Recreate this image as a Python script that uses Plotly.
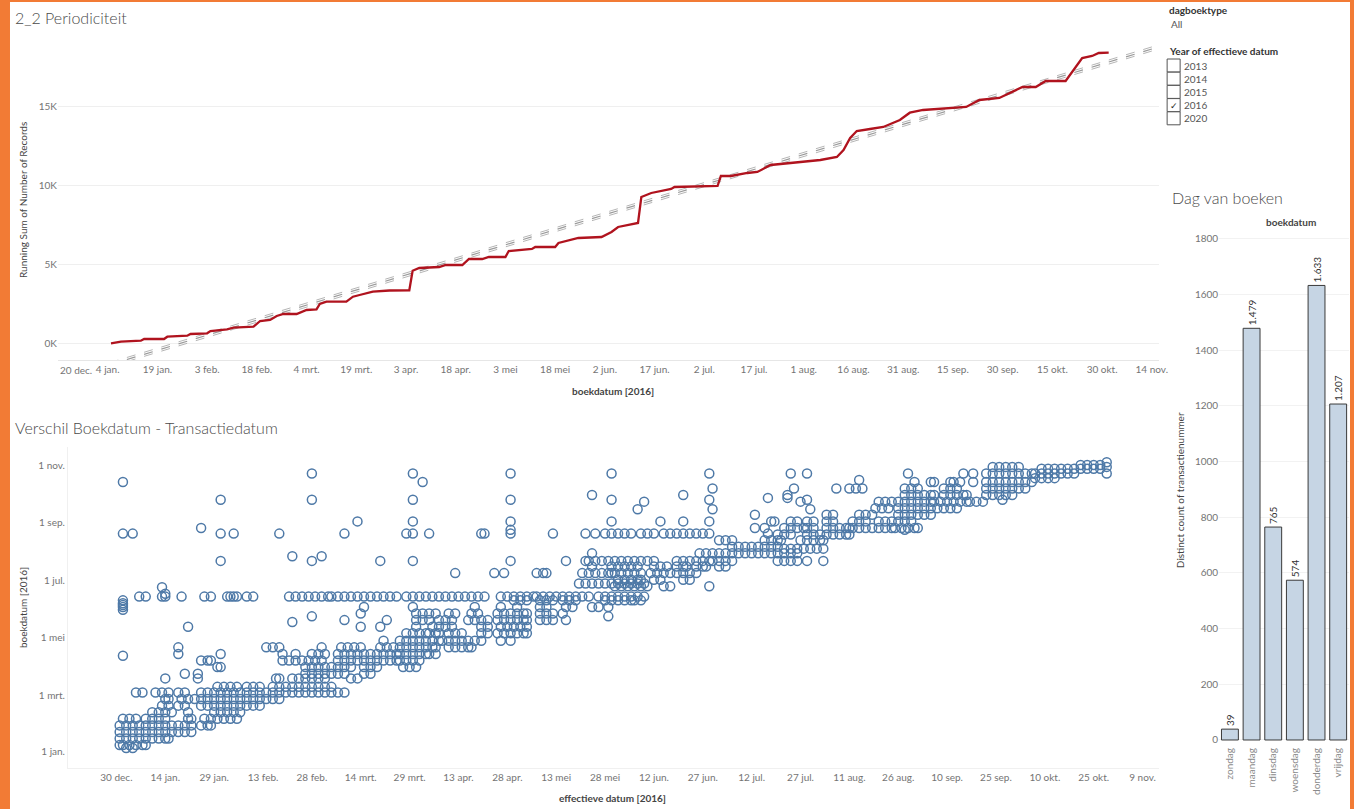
import plotly.graph_objects as go
import pandas as pd

W, H = 1355, 809          # reference pixel frame
W_FIG = 1363              # rendered figure width (compensates horizontal squeeze of the viewer)

# ---------------- Top chart: running sum of number of records ----------------
run_dates = ["2016-01-05","2016-01-08","2016-01-14","2016-01-15","2016-01-21","2016-01-22",
 "2016-01-28","2016-01-29","2016-02-03","2016-02-04","2016-02-09","2016-02-11","2016-02-17",
 "2016-02-19","2016-02-22","2016-02-24","2016-02-26","2016-03-01","2016-03-04","2016-03-07",
 "2016-03-08","2016-03-10","2016-03-16","2016-03-18","2016-03-20","2016-03-24","2016-03-29",
 "2016-04-04","2016-04-05","2016-04-07","2016-04-13","2016-04-15","2016-04-20","2016-04-22",
 "2016-04-26","2016-04-28","2016-05-03","2016-05-04","2016-05-11","2016-05-12","2016-05-18",
 "2016-05-19","2016-05-25","2016-06-01","2016-06-04","2016-06-06","2016-06-12","2016-06-13",
 "2016-06-16","2016-06-22","2016-06-23","2016-07-06","2016-07-07","2016-07-10","2016-07-15",
 "2016-07-18","2016-07-22","2016-07-28","2016-08-06","2016-08-11","2016-08-13","2016-08-15",
 "2016-08-17","2016-08-21","2016-08-25","2016-08-30","2016-09-02","2016-09-06","2016-09-13",
 "2016-09-19","2016-09-23","2016-09-29","2016-10-06","2016-10-10","2016-10-13","2016-10-19",
 "2016-10-24","2016-10-27","2016-10-29","2016-11-01"]
run_values = [44,146,209,316,316,462,525,633,677,823,
 930,1032,1095,1456,1519,1772,1899,1899,2152,2196,
 2532,2677,2677,2994,3101,3310,3386,3400,4639,4810,
 4873,5000,5000,5380,5380,5506,5506,5886,6013,6139,
 6139,6392,6709,6772,7088,7405,7658,9304,9557,9810,
 9937,10000,10633,10633,10823,10886,11329,11456,11646,11835,
 12278,13038,13481,13607,13734,14177,14639,14810,14937,15000,
 15443,15570,16266,16266,16645,16645,18101,18228,18417,18440]

trend_dates = ["2015-12-20", "2016-11-16"]
trend_values = [-2305, 18797]
trend_band = 130

top_tick_dates = ["2016-01-04","2016-01-19","2016-02-03","2016-02-18","2016-03-04","2016-03-19",
 "2016-04-03","2016-04-18","2016-05-03","2016-05-18","2016-06-02","2016-06-17","2016-07-02",
 "2016-07-17","2016-08-01","2016-08-16","2016-08-31","2016-09-15","2016-09-30","2016-10-15",
 "2016-10-30","2016-11-14"]
top_tick_text = ["4 jan.","19 jan.","3 feb.","18 feb.","4 mrt.","19 mrt.","3 apr.","18 apr.",
 "3 mei","18 mei","2 jun.","17 jun.","2 jul.","17 jul.","1 aug.","16 aug.","31 aug.",
 "15 sep.","30 sep.","15 okt.","30 okt.","14 nov."]
top_first_label = "20 dec."
top_y_ticks = [0, 5000, 10000, 15000]
top_y_text = ["0K", "5K", "10K", "15K"]

# ---------------- Scatter: effectieve datum vs boekdatum (days since 1 jan 2016) ----------------
verschil_boek = [4, 7, 14, 21, 28, 35, 42, 49, 56, 63,
 69, 78, 83, 90, 97, 102, 104, 111, 118, 126,
 133, 138, 140, 144, 147, 151, 154, 156, 158, 161,
 165, 168, 175, 176, 179, 183, 190, 197, 203, 208,
 211, 216, 218, 225, 231, 232, 236, 238, 245, 252,
 258, 259, 266, 268, 270, 273, 280, 287, 289, 291,
 296, 301, 303, 305, 308]
verschil_eff = [
 [1, 3],
 [-1, 0, 2, 4, 6, 7],
 [-1, 1, 3, 5, 7, 9, 11, 13, 14],
 [-1, 1, 3, 5, 7, 9, 11, 13, 15, 17, 19, 21],
 [-1, 1, 3, 5, 7, 9, 11, 13, 15, 17, 19, 21, 24, 26, 27],
 [0, 2, 4, 7, 9, 11, 13, 20, 21, 25, 27, 29, 31, 33, 35],
 [9, 11, 13, 15, 20, 28, 30, 32, 34, 36],
 [12, 14, 17, 19, 24, 26, 28, 30, 32, 34, 36, 38, 40, 42],
 [13, 14, 18, 20, 22, 24, 26, 28, 30, 32, 34, 36, 38, 40, 42, 44, 46, 48],
 [4, 6, 10, 12, 14, 17, 19, 24, 26, 28, 30, 32, 34, 36, 38, 40, 42, 44, 46, 48, 50, 52, 54, 56, 58, 60, 62, 64, 66, 68],
 [29, 31, 33, 35, 38, 40, 42, 46, 48, 50, 52, 54, 56, 58, 60, 62, 64],
 [13, 23, 47, 48, 52, 54, 56, 58, 60, 62, 70, 72],
 [19, 23, 56, 58, 60, 62, 64, 66, 68, 74, 76],
 [29, 30, 56, 58, 60, 62, 64, 66, 68, 70, 74, 76, 78, 86, 88, 90],
 [24, 26, 27, 49, 51, 53, 55, 57, 59, 61, 66, 68, 70, 72, 74, 76, 78, 80, 82, 84, 85, 87, 89, 91],
 [0],
 [17, 30, 49, 53, 58, 60, 62, 66, 68, 70, 72, 74, 76, 78, 80, 82, 84, 85, 87, 89, 91, 93, 94, 96],
 [17, 44, 46, 48, 61, 67, 69, 71, 73, 79, 81, 83, 85, 87, 89, 91, 93, 95, 96, 100, 102, 104, 106, 107],
 [80, 85, 87, 89, 91, 93, 95, 97, 98, 100, 102, 104, 106, 108, 110, 116, 119],
 [87, 89, 91, 93, 94, 96, 97, 100, 102, 104, 110, 112, 115, 117, 119, 121, 123, 124],
 [20, 73, 79, 90, 95, 97, 99, 101, 110, 112, 116, 118, 120, 122, 124],
 [52],
 [68, 81, 90, 92, 94, 97, 99, 101, 106, 108, 110, 112, 115, 117, 119, 121, 123, 124, 128, 130, 132, 136],
 [58, 149],
 [73, 90, 92, 94, 96, 100, 102, 107, 109, 115, 117, 119, 121, 123, 124, 128, 130, 132, 135],
 [0],
 [0, 74, 89, 108, 116, 121, 128, 130, 136, 138, 144, 146, 149],
 [0],
 [0],
 [0, 120, 122, 124, 128, 130, 132, 135, 137, 139, 148, 150, 152, 154, 156, 157, 159],
 [5, 7, 12, 13, 18, 25, 27, 32, 33, 34, 35, 38, 40, 51, 53, 55, 57, 59, 61, 63, 64, 66, 68, 70, 72, 74, 76, 78, 80, 82, 84,
  87, 89, 91, 93, 95, 97, 99, 101, 103, 105, 107, 109, 111, 116, 118, 120, 122, 124, 126, 127, 129, 131, 133, 135, 137,
  139, 141, 143, 146, 148, 150, 152, 154, 156, 158, 160],
 [13],
 [12],
 [151, 153, 155, 157, 159, 161, 166, 168, 180],
 [140, 142, 144, 146, 148, 150, 152, 154, 156, 158, 160],
 [152, 154, 156, 158, 159, 163, 165, 172, 174],
 [102, 114, 117, 127, 129, 130, 141, 143, 145, 147, 149, 150, 151, 153, 155, 157, 159, 162, 164, 166, 168, 170, 172, 174, 176],
 [144, 150, 152, 154, 156, 158, 163, 165, 167, 170, 172, 173, 176, 178, 179, 183, 185],
 [30, 58, 79, 89, 119, 136, 142, 143, 145, 147, 149, 151, 153, 155, 157, 159, 161, 163, 170, 172, 174, 176, 178, 180, 181,
  183, 185, 187, 201, 203, 205, 207, 210, 215],
 [52, 61],
 [144, 177, 179, 181, 183, 185, 187, 189, 191, 193, 195, 197, 199, 201, 203, 205, 207],
 [203, 205, 207, 209, 211, 213, 215],
 [187, 189, 191, 193, 195, 197, 199, 201],
 [183, 185, 187, 197, 199, 201, 202, 208, 210, 212, 214, 215],
 [201, 203, 205, 210, 212, 214, 216, 218, 220, 222, 223],
 [0, 3, 30, 34, 48, 68, 87, 89, 94, 110, 111, 119, 132, 142, 145, 148, 150, 152, 154, 156, 159, 161, 163, 166, 168, 170,
  172, 174, 176, 178, 180, 198],
 [119, 240],
 [24, 194, 197, 203, 205, 207, 209, 210, 212, 216, 218, 220, 222, 223, 224, 226, 228, 230, 232, 234, 236, 237, 239, 241, 243, 244],
 [72, 89, 119, 150, 165, 172, 180, 199, 200, 205, 207, 210, 212, 216, 218, 224, 226, 228, 232, 234, 236, 238, 240, 242],
 [194, 216, 218, 226, 228, 230, 238, 240, 242, 244, 246, 248],
 [158, 181, 211],
 [231, 233, 235, 238, 240, 242, 244, 246, 248, 250, 252, 254, 256],
 [160, 208, 232, 234, 236, 238, 240, 242, 244, 246, 248, 249, 251, 253, 255, 257, 259, 260, 262, 264],
 [30, 58, 89, 119, 150, 180, 210, 270],
 [198, 204],
 [144, 172, 204, 240, 242, 244, 246, 248, 249, 252, 254, 256, 258, 259, 265, 267, 269, 271, 273],
 [181, 206, 219, 223, 225, 227, 240, 242, 244, 252, 254, 256, 265, 267, 269, 271, 273, 275, 277],
 [0, 92, 243, 248, 249, 254, 255, 257, 261, 265, 267, 269, 271, 273, 275, 277, 279],
 [226],
 [280, 282, 284, 286],
 [58, 89, 119, 150, 180, 205, 210, 241, 258, 261, 265, 267, 269, 271, 273, 275, 277, 279, 280, 282, 284, 286, 288, 290, 292, 302],
 [282, 284, 286, 288, 290, 292, 294, 296, 298, 300],
 [267, 269, 271, 273, 275, 302],
 [294, 296, 298, 300],
 [302],
]

sc_x_tick_dates = ["2015-12-30","2016-01-14","2016-01-29","2016-02-13","2016-02-28","2016-03-14",
 "2016-03-29","2016-04-13","2016-04-28","2016-05-13","2016-05-28","2016-06-12","2016-06-27",
 "2016-07-12","2016-07-27","2016-08-11","2016-08-26","2016-09-10","2016-09-25","2016-10-10",
 "2016-10-25","2016-11-09"]
sc_x_tick_text = ["30 dec.","14 jan.","29 jan.","13 feb.","28 feb.","14 mrt.","29 mrt.","13 apr.",
 "28 apr.","13 mei","28 mei","12 jun.","27 jun.","12 jul.","27 jul.","11 aug.","26 aug.",
 "10 sep.","25 sep.","10 okt.","25 okt.","9 nov."]
sc_y_tick_dates = ["2016-01-01","2016-03-01","2016-05-01","2016-07-01","2016-09-01","2016-11-01"]
sc_y_tick_text = ["1 jan.","1 mrt.","1 mei","1 jul.","1 sep.","1 nov."]

# ---------------- Bar chart: Dag van boeken ----------------
dagen = ["zondag", "maandag", "dinsdag", "woensdag", "donderdag", "vrijdag"]
dag_counts = [39, 1479, 765, 574, 1633, 1207]
dag_labels = ["39", "1.479", "765", "574", "1.633", "1.207"]

# ---------------- Filter panel ----------------
filter_years = ["2013", "2014", "2015", "2016", "2020"]
filter_checked = [False, False, False, True, False]

# =============================================================================
FONT = "Lato"
TICK = dict(family=FONT, size=10, color="#747474")

def px(x):
    return x / W

def py(y):
    return 1 - y / H

base = pd.Timestamp("2016-01-01")
sx, sy = [], []
for b, effs in zip(verschil_boek, verschil_eff):
    for e in effs:
        sx.append(base + pd.Timedelta(days=e))
        sy.append(base + pd.Timedelta(days=b))

fig = go.Figure()

# trend line with band
for off, col, wd in [(-trend_band, "#b5b5b5", 1), (trend_band, "#b5b5b5", 1), (0, "#9a9a9a", 1.2)]:
    fig.add_trace(go.Scatter(x=trend_dates, y=[v + off for v in trend_values], mode="lines",
                             line=dict(color=col, width=wd, dash="dash"),
                             xaxis="x", yaxis="y", showlegend=False, hoverinfo="skip"))
fig.add_trace(go.Scatter(x=run_dates, y=run_values, mode="lines",
                         line=dict(color="#b0131e", width=2.3),
                         xaxis="x", yaxis="y", showlegend=False))

fig.add_trace(go.Scatter(x=sx, y=sy, mode="markers",
                         marker=dict(symbol="circle-open", size=9, color="#4e79a7",
                                     line=dict(width=1.5, color="#4e79a7")),
                         xaxis="x2", yaxis="y2", showlegend=False))

fig.add_trace(go.Bar(x=dagen, y=dag_counts, text=dag_labels, textposition="outside",
                     textangle=-90, cliponaxis=False, constraintext="none",
                     textfont=dict(family=FONT, size=10, color="#333"),
                     marker=dict(color="#c6d5e4", line=dict(color="#3a3a3a", width=1)),
                     xaxis="x3", yaxis="y3", showlegend=False))

top_x0 = pd.Timestamp("2015-12-20")
top_x1 = pd.Timestamp("2016-02-03") + pd.Timedelta(days=(1160 - 207) / 3.318)
sc_x0 = base + pd.Timedelta(days=(68 - 116.5) / 3.26 - 2)
sc_x1 = base + pd.Timedelta(days=(1160 - 116.5) / 3.26 - 2)
sc_y0 = base + pd.Timedelta(days=(751.7 - 768) / 0.94)
sc_y1 = base + pd.Timedelta(days=(751.7 - 447) / 0.94)

fig.update_layout(
    width=W_FIG, height=H, autosize=False, margin=dict(l=0, r=0, t=0, b=0),
    paper_bgcolor="white", plot_bgcolor="white",
    font=dict(family=FONT, color="#333"),
    bargap=0.22,
    xaxis=dict(domain=[px(58), px(1160)], anchor="y", type="date", range=[top_x0, top_x1],
               tickmode="array", tickvals=top_tick_dates, ticktext=top_tick_text,
               showgrid=False, zeroline=False, showline=True, linecolor="#e6e6e6",
               ticks="", tickfont=TICK),
    yaxis=dict(domain=[py(360), py(40)], anchor="x", range=[-1013, 19240],
               tickmode="array", tickvals=top_y_ticks, ticktext=top_y_text,
               showgrid=True, gridcolor="#efefef", zeroline=False, showline=False,
               ticks="", tickfont=TICK),
    xaxis2=dict(domain=[px(68), px(1160)], anchor="y2", type="date", range=[sc_x0, sc_x1],
                tickmode="array", tickvals=sc_x_tick_dates, ticktext=sc_x_tick_text,
                showgrid=False, zeroline=False, showline=True, linecolor="#f0f0f0",
                ticks="", tickfont=TICK),
    yaxis2=dict(domain=[py(768), py(447)], anchor="x2", type="date", range=[sc_y0, sc_y1],
                tickmode="array", tickvals=sc_y_tick_dates, ticktext=sc_y_tick_text,
                showgrid=False, zeroline=False, showline=True, linecolor="#f0f0f0",
                ticks="", tickfont=TICK),
    xaxis3=dict(domain=[px(1220), px(1350)], anchor="y3", type="category",
                tickangle=-90, showgrid=False, showline=False, ticks="",
                tickfont=dict(family=FONT, size=10, color="#8a8a8a")),
    yaxis3=dict(domain=[py(745), py(232)], anchor="x3", range=[-18, 1825],
                tickmode="array", tickvals=list(range(0, 1801, 200)),
                showgrid=True, gridcolor="#f2f2f2", zeroline=False, showline=False,
                ticks="", tickfont=TICK),
)

ann = []
def text(x, y, s, size=10, color="#333", xanchor="left", angle=0, bold=False, weight=None):
    f = dict(family=FONT, size=size, color=color)
    if weight is not None:
        f["weight"] = weight
    ann.append(dict(x=px(x), y=py(y), xref="paper", yref="paper", text=(f"<b>{s}</b>" if bold else s),
                    showarrow=False, xanchor=xanchor, yanchor="middle", textangle=angle, font=f))

text(13, 18, "2_2 Periodiciteit", size=16, color="#4a4a4a", weight=300)
text(13, 427, "Verschil Boekdatum - Transactiedatum", size=16, color="#4a4a4a", weight=300)
text(1171, 197, "Dag van boeken", size=16, color="#4a4a4a", weight=300)
text(1292, 222, "boekdatum", size=10, xanchor="center", bold=True, color="#444")
text(613, 391, "boekdatum [2016]", size=10, xanchor="center", bold=True, color="#444")
text(613, 798, "effectieve datum [2016]", size=10, xanchor="center", bold=True, color="#444")
text(23, 200, "Running Sum of Number of Records", size=10, xanchor="center", angle=-90, color="#444")
text(23, 607, "boekdatum [2016]", size=10, xanchor="center", angle=-90, color="#444")
text(1181, 490, "Distinct count of transactienummer", size=10, xanchor="center", angle=-90, color="#444")
text(76, 370, top_first_label, size=10, xanchor="center", color="#747474")

# filter panel
text(1168, 10, "dagboektype", size=10, bold=True, color="#333")
text(1170, 24, "All", size=10, color="#555")
text(1168, 51, "Year of effectieve datum", size=10, bold=True, color="#333")

shapes = []
for i, (yr, chk) in enumerate(zip(filter_years, filter_checked)):
    top = 59 + i * 13.2
    shapes.append(dict(type="rect", xref="paper", yref="paper", x0=px(1168), x1=px(1181),
                       y0=py(top + 13), y1=py(top), line=dict(color="#555", width=1),
                       fillcolor="white"))
    text(1183, top + 6.5, yr, size=10, color="#555")
    if chk:
        text(1174.5, top + 7, "✓", size=9, xanchor="center", color="#222")

# orange dashboard border
orange = "#f27b35"
shapes += [
    dict(type="rect", xref="paper", yref="paper", x0=0, x1=px(10), y0=0, y1=1, line=dict(width=0), fillcolor=orange),
    dict(type="rect", xref="paper", yref="paper", x0=px(1351), x1=1, y0=0, y1=1, line=dict(width=0), fillcolor=orange),
    dict(type="rect", xref="paper", yref="paper", x0=0, x1=1, y0=py(2), y1=1, line=dict(width=0), fillcolor=orange),
]

fig.update_layout(annotations=ann, shapes=shapes)
fig.write_html("out.html",
               config={"responsive": False, "displayModeBar": False},
               post_script="document.body.style.margin='0';document.body.style.overflow='hidden';")
